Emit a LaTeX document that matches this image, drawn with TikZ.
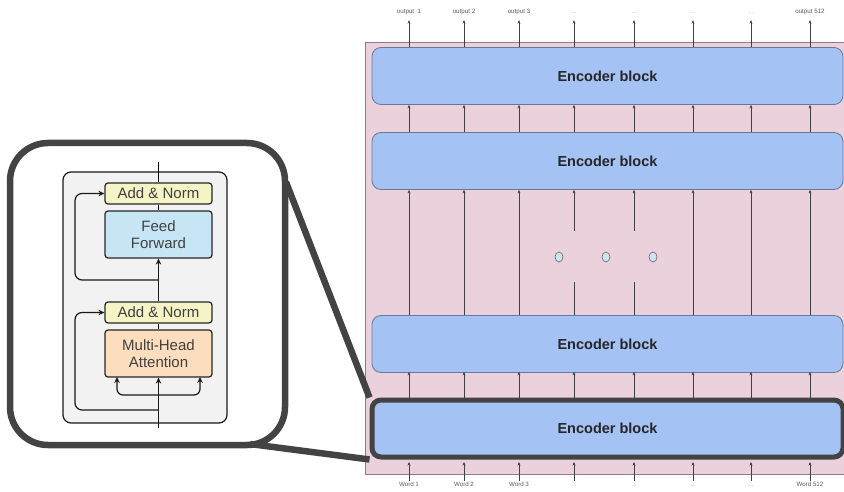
\documentclass[tikz,border=0pt]{standalone}
\usepackage{fontspec}
\setmainfont{Liberation Sans}
\usetikzlibrary{arrows.meta,shapes.geometric}

\definecolor{pinkbg}{HTML}{EAD1DC}
\definecolor{pinkedge}{HTML}{8E7D86}
\definecolor{blockblue}{HTML}{A4C2F4}
\definecolor{blockedge}{HTML}{6A7895}
\definecolor{zoomgray}{HTML}{434343}
\definecolor{dotblue}{HTML}{CFE2F3}
\definecolor{innerbg}{HTML}{F2F2F2}
\definecolor{normyellow}{HTML}{F4F4C6}
\definecolor{ffblue}{HTML}{C6E6F6}
\definecolor{mhaorange}{HTML}{FCDDBD}

\newcommand{\etcdots}{\textcolor{black!35}{...}}

\begin{document}
\begin{tikzpicture}[x=1pt,y=-1pt]
        \tikzstyle{block}=[draw=blockedge, fill=blockblue, line width=0.8pt,
            rounded corners=9pt, minimum width=471pt, minimum height=57pt,
            font=\fontsize{14.5}{16}\selectfont\bfseries, text=black!85]
        \tikzstyle{small}=[font=\fontsize{6.2}{7}\selectfont, text=black!65, inner sep=1pt,
            text height=4.6pt, text depth=1.3pt]
        \tikzstyle{colarr}=[draw=black!75, line width=0.8pt, -{Stealth[length=3.5pt, width=3pt]}]
        \tikzstyle{colline}=[draw=black!75, line width=0.8pt]
        \tikzstyle{dot}=[draw=black!55, fill=dotblue, ellipse, minimum width=8pt,
            minimum height=10pt, inner sep=0pt, line width=0.7pt]
        \tikzstyle{sub}=[draw=black!85, line width=1.2pt, rounded corners=3pt,
            minimum width=107pt, font=\fontsize{15}{17}\selectfont, text=black!75,
            align=center, inner sep=0pt]
        \tikzstyle{inarr}=[draw=black!90, line width=1.2pt, -{Stealth[length=6pt, width=5.5pt]}]
        \tikzstyle{zoomline}=[draw=zoomgray, line width=6.5pt]

        \useasboundingbox (0,0) rectangle (844,492);
        \clip (0,0) rectangle (844,492);

        % stack of encoder blocks
	\draw[fill=pinkbg, draw=pinkedge, line width=0.8pt] (365,42) rectangle (850,474);

        \foreach \x [count=\i] in {409,464,519,574,634,693,751,810}
            \coordinate (c\i) at (\x,0);

        \node[small] (out1) at (c1 |- 0,12) {output\ \ 1};
        \node[small] (out2) at (c2 |- 0,12) {output 2};
        \node[small] (out3) at (c3 |- 0,12) {output 3};
        \node[small] (out4) at (c4 |- 0,12) {\etcdots};
        \node[small] (out5) at (c5 |- 0,12) {\etcdots};
        \node[small] (out6) at (c6 |- 0,12) {\etcdots};
        \node[small] (out7) at (c7 |- 0,12) {\etcdots};
        \node[small] (out8) at (c8 |- 0,12) {output 512};

        \node[small] (w1) at (c1 |- 0,485) {Word 1};
        \node[small] (w2) at (c2 |- 0,485) {Word 2};
        \node[small] (w3) at (c3 |- 0,485) {Word 3};
        \node[small] (w4) at (c4 |- 0,485) {\etcdots};
        \node[small] (w5) at (c5 |- 0,485) {\etcdots};
        \node[small] (w6) at (c6 |- 0,485) {\etcdots};
        \node[small] (w7) at (c7 |- 0,485) {\etcdots};
        \node[small] (w8) at (c8 |- 0,485) {Word 512};

        \node[block] (blk1) at (607.5,76) {Encoder block};
        \node[block] (blk2) at (607.5,161) {Encoder block};
        \node[block] (blk3) at (607.5,344) {Encoder block};
        \node[block, draw=zoomgray, line width=5pt] (blk4) at (607.5,428.5) {Encoder block};

        \foreach \i in {1,...,8} {
            \draw[colarr] (blk1.north -| c\i) -- ([yshift=-4pt]out\i.south);
            \draw[colarr] (blk2.north -| c\i) -- (blk1.south -| c\i);
            \draw[colarr] (blk4.north -| c\i) -- ([yshift=1pt]blk3.south -| c\i);
            \draw[colarr, shorten >=2.5pt] (w\i.north) -- (blk4.south -| c\i);
        }
        \foreach \i in {1,2,3,6,7,8}
            \draw[colarr] (blk3.north -| c\i) -- (blk2.south -| c\i);
        \foreach \i in {4,5} {
            \draw[colline] (blk3.north -| c\i) -- ++(0,-33);
            \draw[colarr] ([yshift=-41pt]blk2.south -| c\i) -- (blk2.south -| c\i);
        }

        \node[dot] (d1) at (559,257) {};
        \node[dot] (d2) at (606,257) {};
        \node[dot] (d3) at (653,257) {};

        % zoomed encoder layer
        \node[draw=black!90, fill=innerbg, line width=1.2pt, rounded corners=8pt,
            minimum width=164pt, minimum height=251pt] (layer) at (145,297.5) {};

        \node[sub, fill=normyellow, minimum height=21pt] (an2) at (158.5,193.5) {Add \& Norm};
        \node[sub, fill=ffblue, minimum height=47pt] (ff) at (158.5,234.5) {Feed\\Forward};
        \node[sub, fill=normyellow, minimum height=21pt] (an1) at (158.5,312.5) {Add \& Norm};
        \node[sub, fill=mhaorange, minimum height=47pt] (mha) at (158.5,353.5) {Multi-Head\\Attention};

        \coordinate (top) at (158.5,162);
        \coordinate (bot) at (158.5,428);
        \coordinate (br1) at (158.5,280);
        \coordinate (br2) at (158.5,410);
        \coordinate (split) at (158.5,395);
        \coordinate (q) at (117,377);
        \coordinate (k) at (200,377);

        \draw[line width=1.2pt] (an2.north) -- (top);
        \draw[line width=1.2pt] (ff.north) -- (an2.south);
        \draw[inarr] (an1.north) -- (ff.south);
        \draw[line width=1.2pt] (mha.north) -- (an1.south);
        \draw[inarr] (bot) -- (mha.south);
        \draw[inarr, rounded corners=7pt] (br1) -| (75,193.5) -- (an2.west);
        \draw[inarr, rounded corners=7pt] (br2) -| (75,312.5) -- (an1.west);
        \draw[inarr, rounded corners=6pt] (split) -| (q);
        \draw[inarr, rounded corners=6pt] (split) -| (k);

        \node[draw=zoomgray, line width=6.5pt, rounded corners=38pt,
            minimum width=275pt, minimum height=302pt] (mag) at (147.5,294) {};
        \coordinate (magA) at (286,182);
        \coordinate (magB) at (250,444);

        \draw[zoomline] (magA) -- (blk4.north west);
        \draw[zoomline] (magB) -- (blk4.south west);
    \end{tikzpicture}
\end{document}
